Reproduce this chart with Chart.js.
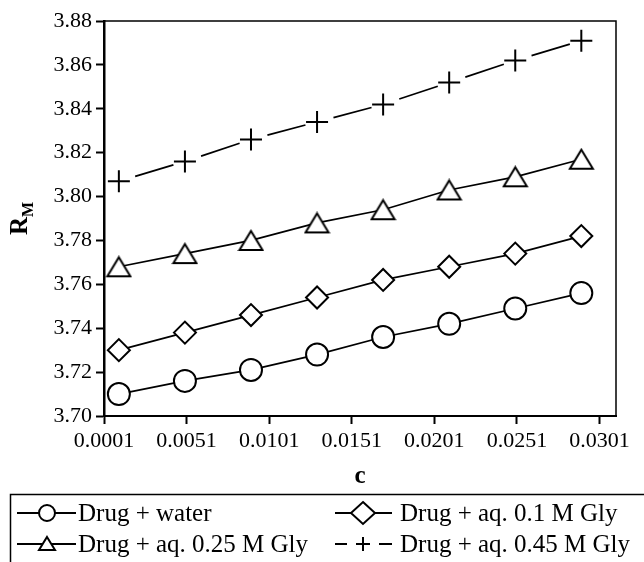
<!DOCTYPE html>
<html>
<head>
<meta charset="utf-8">
<script src="https://cdn.jsdelivr.net/npm/chart.js@4"></script>
<style>
  html, body { margin: 0; padding: 0; background: #fff; }
  #wrap { width: 644px; height: 562px; }
</style>
</head>
<body>
<div id="wrap"><canvas id="myChart"></canvas></div>
<script>
const concentrations = [0.001, 0.005, 0.009, 0.013, 0.017, 0.021, 0.025, 0.029];
const water = [3.710, 3.716, 3.721, 3.728, 3.736, 3.742, 3.749, 3.756];
const gly01 = [3.730, 3.738, 3.746, 3.754, 3.762, 3.768, 3.774, 3.782];
const gly025 = [3.768, 3.774, 3.780, 3.788, 3.794, 3.803, 3.809, 3.817];
const gly045 = [3.807, 3.816, 3.826, 3.834, 3.842, 3.852, 3.862, 3.871];
const seriesNames = ["Drug + water", "Drug + aq. 0.1 M Gly", "Drug + aq. 0.25 M Gly", "Drug + aq. 0.45 M Gly"];
const xTickValues = [0.0001, 0.0051, 0.0101, 0.0151, 0.0201, 0.0251, 0.0301];
const xTickLabels = ["0.0001", "0.0051", "0.0101", "0.0151", "0.0201", "0.0251", "0.0301"];
const yTickValues = [3.70, 3.72, 3.74, 3.76, 3.78, 3.80, 3.82, 3.84, 3.86, 3.88];
const yTickLabels = ["3.70", "3.72", "3.74", "3.76", "3.78", "3.80", "3.82", "3.84", "3.86", "3.88"];

const FONT = "'Liberation Serif', serif";

// triangle marker centred on its bounding box, like the original
function makeTriangle(w, h, lw) {
  const c = document.createElement("canvas");
  c.width = w + lw * 2;
  c.height = h + lw * 2;
  const g = c.getContext("2d");
  g.beginPath();
  g.moveTo(c.width / 2, lw);
  g.lineTo(c.width - lw, lw + h);
  g.lineTo(lw, lw + h);
  g.closePath();
  g.fillStyle = "#fff";
  g.fill();
  g.lineWidth = lw;
  g.strokeStyle = "#000";
  g.stroke();
  return c;
}
const triBig = makeTriangle(23, 19, 2);

function points(ys) {
  return concentrations.map((x, i) => ({ x: x, y: ys[i] }));
}

function drawLegendMarker(ctx, kind, x, y) {
  ctx.save();
  ctx.lineWidth = 2;
  ctx.strokeStyle = "#000";
  ctx.fillStyle = "#fff";
  ctx.beginPath();
  if (kind === "circle") {
    ctx.arc(x, y, 8, 0, Math.PI * 2);
    ctx.fill();
    ctx.stroke();
  } else if (kind === "diamond") {
    ctx.moveTo(x, y - 11);
    ctx.lineTo(x + 12, y);
    ctx.lineTo(x, y + 11);
    ctx.lineTo(x - 12, y);
    ctx.closePath();
    ctx.fill();
    ctx.stroke();
  } else if (kind === "triangle") {
    ctx.moveTo(x, y - 7);
    ctx.lineTo(x + 8, y + 6);
    ctx.lineTo(x - 8, y + 6);
    ctx.closePath();
    ctx.fill();
    ctx.stroke();
  } else {
    ctx.moveTo(x - 7, y);
    ctx.lineTo(x + 7, y);
    ctx.moveTo(x, y - 7);
    ctx.lineTo(x, y + 7);
    ctx.stroke();
  }
  ctx.restore();
}

const framePlugin = {
  id: "frame",
  afterDraw(chart) {
    const ctx = chart.ctx;
    const a = chart.chartArea;
    ctx.save();
    // top and right border
    ctx.strokeStyle = "#000";
    ctx.lineWidth = 1.5;
    ctx.beginPath();
    ctx.moveTo(a.left, a.top);
    ctx.lineTo(a.right, a.top);
    ctx.lineTo(a.right, a.bottom);
    ctx.stroke();

    // axis titles
    ctx.fillStyle = "#000";
    ctx.textBaseline = "alphabetic";
    ctx.font = "bold 25px " + FONT;
    ctx.textAlign = "center";
    ctx.fillText("c", (a.left + a.right) / 2, 483);

    const cy = (a.top + a.bottom) / 2;
    ctx.save();
    ctx.translate(27, cy);
    ctx.rotate(-Math.PI / 2);
    ctx.textAlign = "left";
    ctx.font = "bold 25px " + FONT;
    const wR = ctx.measureText("R").width;
    ctx.font = "bold 16px " + FONT;
    const wM = ctx.measureText("M").width;
    const start = -(wR + wM) / 2;
    ctx.font = "bold 25px " + FONT;
    ctx.fillText("R", start, 0);
    ctx.font = "bold 16px " + FONT;
    ctx.fillText("M", start + wR, 6);
    ctx.restore();

    // legend box
    ctx.lineWidth = 1.5;
    ctx.strokeRect(10.5, 494.5, 660, 100);
    const kinds = ["circle", "diamond", "triangle", "cross"];
    const cols = [{ x0: 17, x1: 76, m: 47, t: 78 }, { x0: 335, x1: 392, m: 363, t: 400 }];
    const rows = [{ y: 513, base: 521 }, { y: 544, base: 552 }];
    ctx.font = "25px " + FONT;
    ctx.textAlign = "left";
    for (let i = 0; i < 4; i++) {
      const c = cols[i % 2];
      const r = rows[Math.floor(i / 2)];
      ctx.lineWidth = 2;
      ctx.beginPath();
      if (kinds[i] === "cross") {
        ctx.moveTo(c.x0, r.y);
        ctx.lineTo(c.x0 + 12, r.y);
        ctx.moveTo(c.x1 - 13, r.y);
        ctx.lineTo(c.x1, r.y);
      } else {
        ctx.moveTo(c.x0, r.y);
        ctx.lineTo(c.x1, r.y);
      }
      ctx.stroke();
      drawLegendMarker(ctx, kinds[i], c.m, r.y);
      ctx.fillText(seriesNames[i], c.t, r.base);
    }
    ctx.restore();
  }
};

function setup() {
  Chart.defaults.font.family = FONT;
  Chart.defaults.font.size = 22;
  Chart.defaults.color = "#000";
  const ctx = document.getElementById("myChart").getContext("2d");
  const common = {
    showLine: true,
    borderColor: "#000",
    borderWidth: 1.7,
    pointBorderColor: "#000",
    pointBackgroundColor: "#fff",
    pointBorderWidth: 2,
    tension: 0
  };
  new Chart(ctx, {
    type: "scatter",
    data: {
      datasets: [
        Object.assign({}, common, { label: seriesNames[0], data: points(water), pointStyle: "circle", pointRadius: 11 }),
        Object.assign({}, common, { label: seriesNames[1], data: points(gly01), pointStyle: "rectRot", pointRadius: 11 }),
        Object.assign({}, common, { label: seriesNames[2], data: points(gly025), pointStyle: triBig, pointRadius: 12 }),
        Object.assign({}, common, {
          label: seriesNames[3],
          data: points(gly045),
          pointStyle: "cross",
          pointRadius: 11,
          segment: {
            borderDash: (s) => {
              const L = Math.hypot(s.p1.x - s.p0.x, s.p1.y - s.p0.y);
              return [L - 29, 29 + s.p0DataIndex * 1e-4];
            },
            borderDashOffset: -17
          }
        })
      ]
    },
    options: {
      responsive: true,
      maintainAspectRatio: false,
      animation: false,
      layout: { padding: { left: 50, top: 21, right: 28, bottom: 106 } },
      plugins: { legend: { display: false }, tooltip: { enabled: false } },
      scales: {
        x: {
          type: "linear",
          min: 0.0001,
          max: 0.0311,
          afterBuildTicks: (axis) => { axis.ticks = xTickValues.map((v) => ({ value: v })); },
          afterFit: (axis) => { axis.height = 40; },
          grid: { display: true, drawOnChartArea: false, drawTicks: true, tickLength: 8, tickColor: "#000", tickWidth: 2 },
          border: { display: true, color: "#000", width: 2 },
          ticks: {
            color: "#000",
            font: { family: FONT, size: 22 },
            padding: 4,
            maxRotation: 0,
            autoSkip: false,
            callback: (v, i) => xTickLabels[i]
          }
        },
        y: {
          min: 3.70,
          max: 3.88,
          afterBuildTicks: (axis) => { axis.ticks = yTickValues.map((v) => ({ value: v })); },
          afterFit: (axis) => { axis.width = 54; },
          grid: { display: true, drawOnChartArea: false, drawTicks: true, tickLength: 8, tickColor: "#000", tickWidth: 2 },
          border: { display: true, color: "#000", width: 2.5 },
          ticks: {
            color: "#000",
            font: { family: FONT, size: 22 },
            padding: 4,
            autoSkip: false,
            callback: (v, i) => yTickLabels[i]
          }
        }
      }
    },
    plugins: [framePlugin]
  });
}

window.addEventListener("load", setup);
</script>
</body>
</html>
